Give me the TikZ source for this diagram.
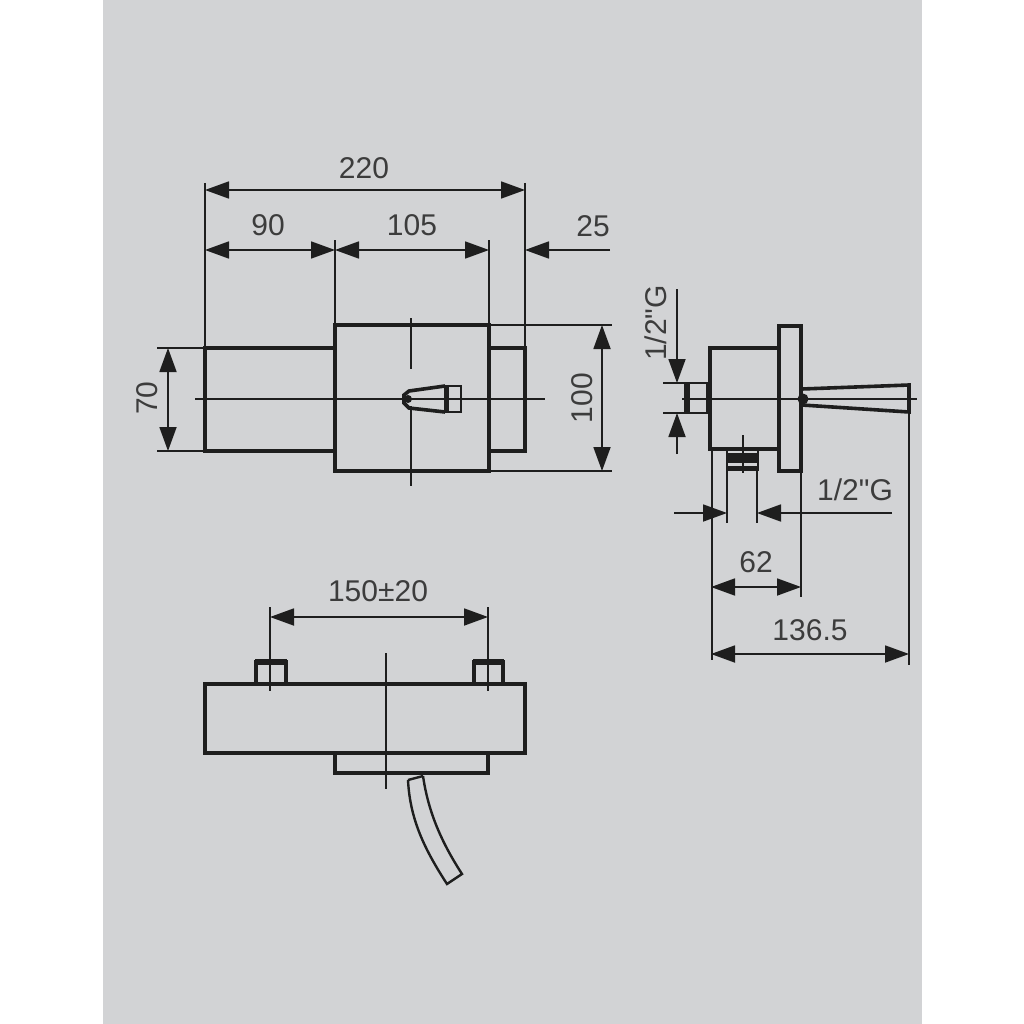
\documentclass[tikz,border=0pt]{standalone}
\usepackage{fontspec}
\setmainfont[Ligatures=TeXOff]{Liberation Sans}
\usetikzlibrary{arrows.meta,positioning}
\definecolor{panelgray}{HTML}{D2D3D5}
\definecolor{inkline}{HTML}{1E1E1E}
\definecolor{inktext}{HTML}{3C3C3C}
\tikzset{>={Triangle[length=24pt,width=17pt]}}
\tikzset{part/.style={draw=inkline,line width=3.6pt,line join=miter}}
\tikzset{thinpart/.style={draw=inkline,line width=2.4pt}}
\tikzset{axisline/.style={draw=inkline,line width=1.8pt}}
\tikzset{dimline/.style={draw=inkline,line width=1.8pt,<->}}
\tikzset{arrowline/.style={draw=inkline,line width=1.8pt,->}}
\tikzset{dimlabel/.style={text=inktext,font=\fontsize{30}{30}\selectfont,inner sep=0pt}}
\tikzset{heavy/.style={fill=inkline,draw=none}}

\begin{document}
\begin{tikzpicture}[x=1pt,y=-1pt]
    \useasboundingbox (0,0) rectangle (1024,1024);
    \fill[white] (0,0) rectangle (1024,1024);
    \fill[panelgray] (103,0) rectangle (922,1024);

    % front view
    \draw[part] (205,348) rectangle (335,451);
    \draw[part] (335,325) rectangle (489,471);
    \draw[part] (489,348) -- (525,348) -- (525,451) -- (489,451);
    \draw[axisline] (195,399) -- (545,399);
    \draw[axisline] (411,318) -- (411,369);
    \draw[axisline] (411,406) -- (411,486);
    \draw[part] (445,386) -- (409,391) -- (404,395) -- (404,403) -- (409,408) -- (445,412);
    \draw[thinpart] (445,386) rectangle (461,412);
    \fill[heavy] (444,386) rectangle (449,412);
    \fill[heavy] (408,399) circle (4);

    % extension lines
    \draw[axisline] (205,183) -- (205,348);
    \draw[axisline] (525,183) -- (525,348);
    \draw[axisline] (335,240) -- (335,325);
    \draw[axisline] (489,240) -- (489,325);
    \draw[axisline] (157,348) -- (205,348);
    \draw[axisline] (157,451) -- (205,451);
    \draw[axisline] (489,325) -- (612,325);
    \draw[axisline] (489,471) -- (612,471);

    \coordinate (allL) at (205,190);
    \coordinate (allR) at (525,190);
    \coordinate (leftL) at (205,250);
    \coordinate (leftR) at (335,250);
    \coordinate (midR) at (489,250);
    \coordinate (endR) at (525,250);
    \coordinate (endTail) at (610,250);
    \coordinate (sideT) at (168,348);
    \coordinate (sideB) at (168,451);
    \coordinate (bodyT) at (602,325);
    \coordinate (bodyB) at (602,471);

    \draw[dimline] (allL) -- node[dimlabel,above=10pt,xshift=-1pt] (l220) {220} (allR);
    \draw[dimline] (leftL) -- node[dimlabel,above=13pt,xshift=-2pt] (l90) {90} (leftR);
    \draw[dimline] (leftR) -- node[dimlabel,above=13pt] (l105) {105} (midR);
    \draw[arrowline] (endTail) -- (endR);
    \node[dimlabel] (l25) at (593,226) {25};
    \draw[dimline] (sideT) -- (sideB);
    \draw[dimline] (bodyT) -- (bodyB);
    \node[dimlabel,rotate=90] (l70) at (147,398) {70};
    \node[dimlabel,rotate=90] (l100) at (582,398) {100};

    % side view
    \draw[part] (710,348) rectangle (779,449);
    \draw[part] (779,326) rectangle (801,471);
    \draw[thinpart] (685,383) rectangle (710,413);
    \fill[heavy] (684,383) rectangle (690,413);
    \fill[heavy] (706,383) rectangle (712,413);
    \draw[axisline] (682,399) -- (917,399);
    \draw[part] (802,389) -- (909,385) -- (909,412) -- (802,405);
    \fill[heavy] (803,399) circle (5.5);
    \draw[thinpart] (727,449) rectangle (758,470);
    \fill[heavy] (727,453) rectangle (758,463);
    \fill[heavy] (727,466) rectangle (758,470);
    \draw[axisline] (743,435) -- (743,473);

    \draw[axisline] (663,383) -- (685,383);
    \draw[axisline] (663,413) -- (685,413);
    \draw[axisline] (712,449) -- (712,660);
    \draw[axisline] (727,470) -- (727,523);
    \draw[axisline] (757,470) -- (757,523);
    \draw[axisline] (801,471) -- (801,597);
    \draw[axisline] (909,412) -- (909,665);

    \coordinate (inT) at (677,383);
    \coordinate (inTtail) at (677,289);
    \coordinate (inB) at (677,413);
    \coordinate (inBtail) at (677,454);
    \coordinate (outL) at (727,513);
    \coordinate (outLtail) at (674,513);
    \coordinate (outR) at (757,513);
    \coordinate (outRtail) at (892,513);
    \coordinate (deepL) at (711,587);
    \coordinate (deepR) at (801,587);
    \coordinate (fullL) at (711,654);
    \coordinate (fullR) at (909,654);

    \draw[arrowline] (inTtail) -- (inT);
    \draw[arrowline] (inBtail) -- (inB);
    \draw[arrowline] (outLtail) -- (outL);
    \draw[arrowline] (outRtail) -- (outR);
    \draw[dimline] (deepL) -- node[dimlabel,above=13pt] (l62) {62} (deepR);
    \draw[dimline] (fullL) -- node[dimlabel,above=12pt] (l136) {136.5} (fullR);
    \node[dimlabel,rotate=90] (lthreadA) at (656,323) {1/2"G};
    \node[dimlabel] (lthreadB) at (855,490) {1/2"G};

    % top view
    \draw[part] (205,684) rectangle (525,753);
    \draw[part] (335,753) rectangle (488,773);
    \draw[part] (256,662) rectangle (286,684);
    \draw[part] (474,662) rectangle (503,684);
    \fill[heavy] (255,659) rectangle (287,665);
    \fill[heavy] (473,659) rectangle (504,665);
    \draw[axisline] (386,653) -- (386,789);
    \draw[axisline] (270,607) -- (270,691);
    \draw[axisline] (488,607) -- (488,691);
    \draw[thinpart] (408,780) .. controls (410,820) and (425,850) .. (447,884) -- (462,874) .. controls (440,840) and (428,810) .. (423,776);
    \draw[thinpart] (408,780) -- (423,776);
    \coordinate (pipeL) at (270,617);
    \coordinate (pipeR) at (488,617);
    \draw[dimline] (pipeL) -- node[dimlabel,above=14pt,xshift=-1pt] (l150) {150±20} (pipeR);
\end{tikzpicture}
\end{document}
